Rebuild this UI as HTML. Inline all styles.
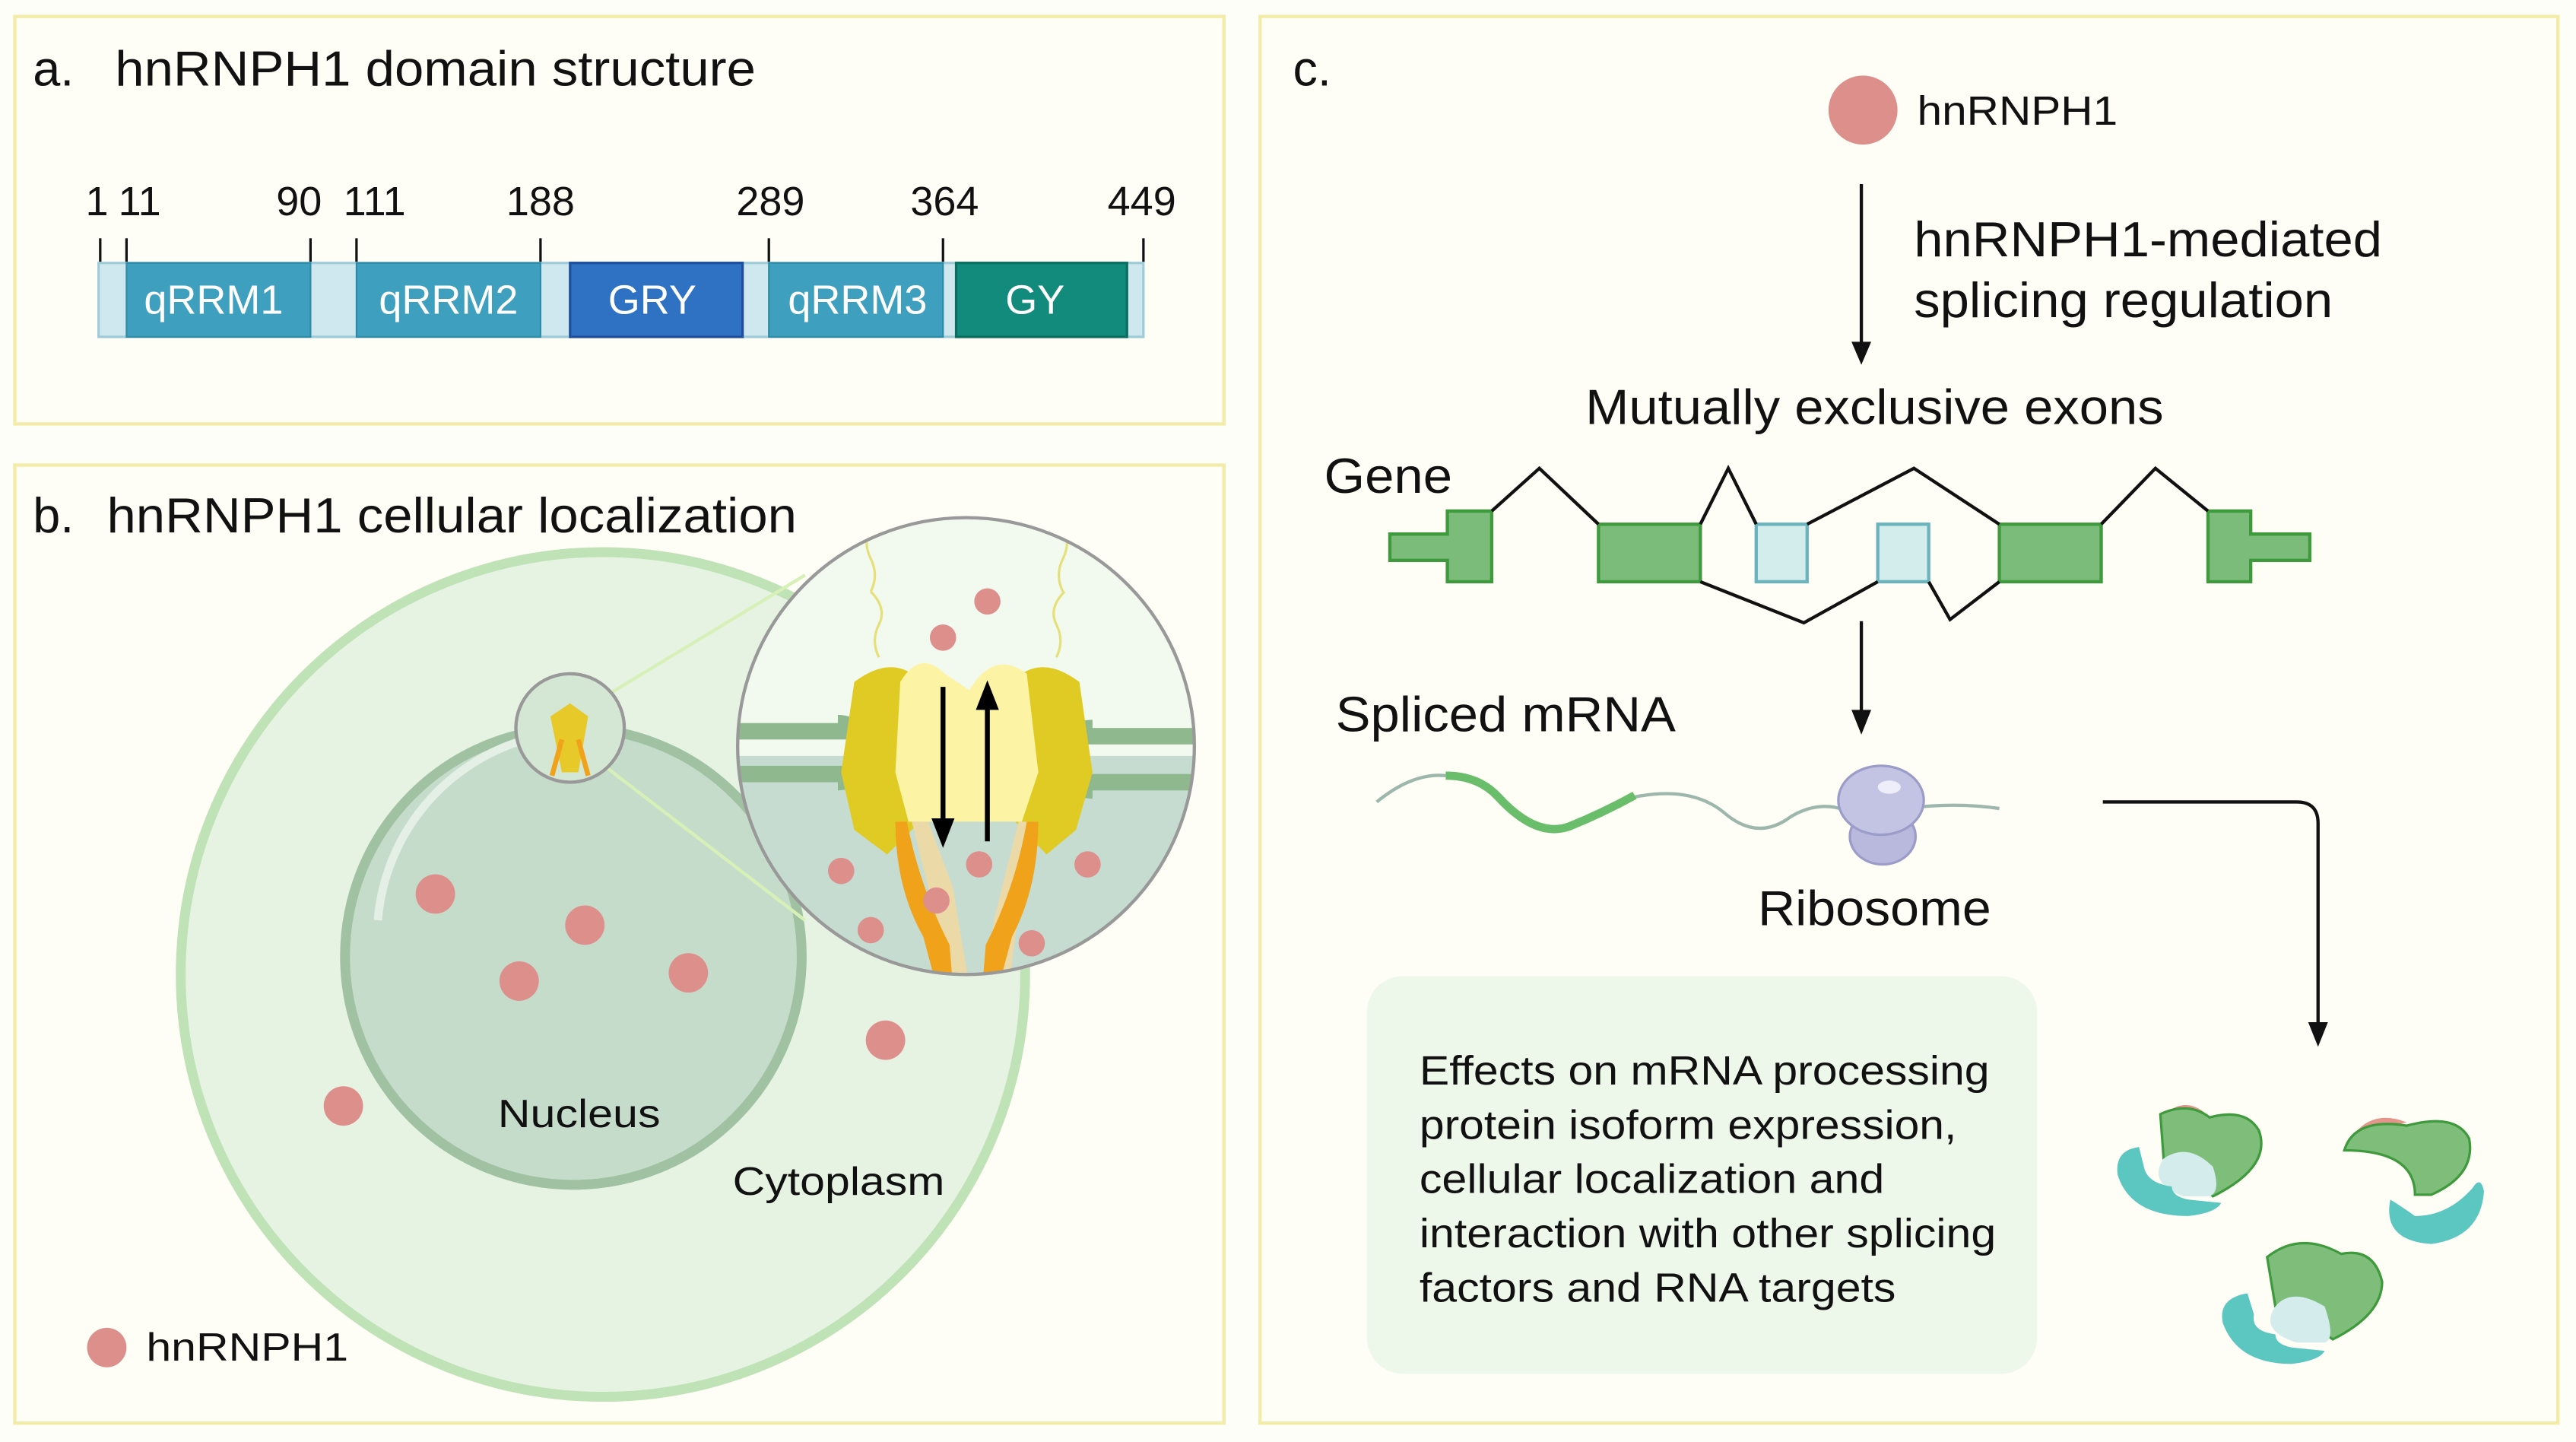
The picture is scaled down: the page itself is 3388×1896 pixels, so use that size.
<!DOCTYPE html>
<html><head><meta charset="utf-8"><style>
html,body{margin:0;padding:0;background:#fefef8;}
svg{display:block;}
text{font-family:"Liberation Sans",Arial,sans-serif;fill:#111;}
</style></head><body>
<svg width="3388" height="1896" viewBox="0 0 1568 877.5" xmlns="http://www.w3.org/2000/svg">
<rect x="0" y="0" width="1568" height="878" fill="#fefef8"/>
<!-- panels -->
<rect x="9" y="10" width="736" height="248" fill="#fefef6" stroke="#f2eca8" stroke-width="2"/>
<rect x="9" y="283" width="736" height="583" fill="#fefef6" stroke="#f2eca8" stroke-width="2"/>
<rect x="767" y="10" width="790" height="856" fill="#fefef6" stroke="#f2eca8" stroke-width="2"/>

<!-- Panel a -->
<text x="20" y="52" font-size="30">a.</text>
<text x="70" y="52" font-size="30" textLength="390" lengthAdjust="spacingAndGlyphs">hnRNPH1 domain structure</text>
<g font-size="25" text-anchor="middle">
<text x="59" y="131">1</text><text x="85" y="131">11</text><text x="182" y="131">90</text><text x="228" y="131">111</text>
<text x="329" y="131">188</text><text x="469" y="131">289</text><text x="575" y="131">364</text><text x="695" y="131">449</text>
</g>
<g stroke="#111" stroke-width="1.5">
<line x1="61" y1="145" x2="61" y2="160"/><line x1="77" y1="145" x2="77" y2="160"/><line x1="189" y1="145" x2="189" y2="160"/>
<line x1="217" y1="145" x2="217" y2="160"/><line x1="329" y1="145" x2="329" y2="160"/><line x1="468" y1="145" x2="468" y2="160"/>
<line x1="574" y1="145" x2="574" y2="160"/><line x1="696" y1="145" x2="696" y2="160"/>
</g>
<rect x="60" y="160" width="636" height="45" fill="#cfe8ef" stroke="#9fcbd8" stroke-width="1.5"/>
<rect x="77" y="160" width="112" height="45" fill="#3e9fbe" stroke="#2f8aa6"/>
<rect x="217" y="160" width="112" height="45" fill="#3e9fbe" stroke="#2f8aa6"/>
<rect x="347" y="160" width="105" height="45" fill="#2f72c3" stroke="#1f4f9a" stroke-width="1.5"/>
<rect x="468" y="160" width="106" height="45" fill="#3e9fbe" stroke="#2f8aa6"/>
<rect x="582" y="160" width="104" height="45" fill="#128b7c" stroke="#0c6e5e" stroke-width="1.5"/>
<g font-size="25" text-anchor="middle">
<text x="130" y="191" style="fill:#fff">qRRM1</text><text x="273" y="191" style="fill:#fff">qRRM2</text>
<text x="397" y="191" style="fill:#fff">GRY</text><text x="522" y="191" style="fill:#fff">qRRM3</text><text x="630" y="191" style="fill:#fff">GY</text>
</g>

<!-- Panel b -->
<text x="20" y="324" font-size="30">b.</text>
<text x="65" y="324" font-size="30" textLength="420" lengthAdjust="spacingAndGlyphs">hnRNPH1 cellular localization</text>
<circle cx="367" cy="593" r="257" fill="#e6f3e3" stroke="#bfe3b6" stroke-width="6"/>
<circle cx="349" cy="582" r="139" fill="#c6dccb" stroke="#a0c2a2" stroke-width="6"/>
<path d="M230 560 A125 125 0 0 1 320 450" stroke="#e4efe6" stroke-width="5" fill="none"/>
<g fill="#dd8f8b">
<circle cx="265" cy="544" r="12"/><circle cx="356" cy="563" r="12"/><circle cx="316" cy="597" r="12"/>
<circle cx="419" cy="592" r="12"/><circle cx="209" cy="673" r="12"/><circle cx="539" cy="633" r="12"/>
<circle cx="65" cy="820" r="12"/>
</g>
<text x="303" y="686" font-size="24" textLength="99" lengthAdjust="spacingAndGlyphs">Nucleus</text>
<text x="446" y="727" font-size="24" textLength="129" lengthAdjust="spacingAndGlyphs">Cytoplasm</text>
<text x="89" y="828" font-size="24" textLength="123" lengthAdjust="spacingAndGlyphs">hnRNPH1</text>
<!-- small circle and lines -->
<line x1="358" y1="430" x2="490" y2="350" stroke="#d6f0b8" stroke-width="2"/>
<line x1="360" y1="460" x2="490" y2="560" stroke="#d6f0b8" stroke-width="2"/>
<circle cx="347" cy="443" r="33" fill="#d4e6d4" stroke="#999" stroke-width="2"/>
<path d="M335 436 L347 428 L358 436 L352 470 L342 470 Z" fill="#e8c92a"/>
<path d="M342 450 L336 472 M352 450 L358 472" stroke="#f0a21a" stroke-width="3"/>
<!-- zoom circle -->
<defs><clipPath id="zc"><circle cx="588" cy="454" r="139"/></clipPath></defs>
<g clip-path="url(#zc)">
<rect x="440" y="300" width="300" height="310" fill="#f2f9ef"/>
<rect x="440" y="460" width="300" height="150" fill="#c6dcd0"/>
<rect x="440" y="440" width="95" height="10" fill="#8fb88f"/>
<rect x="440" y="466" width="95" height="10" fill="#8fb88f"/>
<path d="M510 440 A18 18 0 0 1 510 476" fill="none" stroke="#8fb88f" stroke-width="10"/>
<rect x="640" y="443" width="100" height="10" fill="#8fb88f"/>
<rect x="640" y="471" width="100" height="10" fill="#8fb88f"/>
<path d="M665 443 A19 19 0 0 0 665 481" fill="none" stroke="#8fb88f" stroke-width="10"/>
<path d="M520 415 Q540 400 555 410 L545 470 L560 500 L540 520 L520 505 L512 470 Z" fill="#e0cb24"/>
<path d="M657 415 Q637 400 622 410 L632 470 L618 500 L637 520 L655 505 L665 470 Z" fill="#e0cb24"/>
<path d="M548 415 Q560 395 575 410 L590 420 Q605 395 625 410 L632 470 L622 500 L553 500 L545 470 Z" fill="#fdf3a4"/>
<path d="M555 500 L570 560 L575 600 L590 600 L580 540 L565 500 Z" fill="#ecd9a8"/>
<path d="M620 500 L605 560 L600 600 L614 600 L622 540 L630 500 Z" fill="#ecd9a8"/>
<path d="M552 500 Q560 540 578 575 L580 600 L570 600 L562 570 Q545 540 545 500 Z" fill="#f0a21a"/>
<path d="M625 500 Q618 540 600 575 L598 600 L608 600 L616 570 Q632 540 632 500 Z" fill="#f0a21a"/>
<path d="M530 360 q5 -10 0 -20 q-5 -10 0 -20 M535 400 q-5 -10 0 -20 q5 -10 -5 -20" stroke="#e6e07a" stroke-width="1.5" fill="none"/>
<path d="M647 360 q-5 -10 0 -20 q5 -10 0 -20 M643 400 q5 -10 0 -20 q-5 -10 5 -20" stroke="#e6e07a" stroke-width="1.5" fill="none"/>
<g fill="#dd8f8b">
<circle cx="601" cy="366" r="8"/><circle cx="574" cy="388" r="8"/><circle cx="596" cy="526" r="8"/>
<circle cx="512" cy="530" r="8"/><circle cx="662" cy="526" r="8"/><circle cx="570" cy="548" r="8"/>
<circle cx="530" cy="566" r="8"/><circle cx="628" cy="574" r="8"/>
</g>
<line x1="574" y1="418" x2="574" y2="500" stroke="#000" stroke-width="3"/>
<path d="M567 498 L574 516 L581 498 Z" fill="#000"/>
<line x1="601" y1="430" x2="601" y2="512" stroke="#000" stroke-width="3"/>
<path d="M594 432 L601 414 L608 432 Z" fill="#000"/>
</g>
<circle cx="588" cy="454" r="139" fill="none" stroke="#999" stroke-width="2"/>

<!-- Panel c -->
<text x="787" y="52" font-size="30">c.</text>
<circle cx="1134" cy="67" r="21" fill="#dd8f8b"/>
<text x="1167" y="76" font-size="25" textLength="122" lengthAdjust="spacingAndGlyphs">hnRNPH1</text>
<line x1="1133" y1="112" x2="1133" y2="215" stroke="#111" stroke-width="2"/>
<path d="M1127 208 L1133 222 L1139 208 Z" fill="#111"/>
<text x="1165" y="156" font-size="30" textLength="285" lengthAdjust="spacingAndGlyphs">hnRNPH1-mediated</text>
<text x="1165" y="193" font-size="30" textLength="255" lengthAdjust="spacingAndGlyphs">splicing regulation</text>
<text x="965" y="258" font-size="30" textLength="352" lengthAdjust="spacingAndGlyphs">Mutually exclusive exons</text>
<text x="806" y="300" font-size="30" textLength="78" lengthAdjust="spacingAndGlyphs">Gene</text>
<g fill="#7cbc7a" stroke="#3e9a3c" stroke-width="2">
<path d="M846 325 H881 V311 H908 V354 H881 V341 H846 Z"/>
<rect x="973" y="319" width="62" height="35"/>
<rect x="1217" y="319" width="62" height="35"/>
<path d="M1344 311 H1370 V325 H1406 V341 H1370 V354 H1344 Z"/>
</g>
<rect x="1069" y="319" width="31" height="35" fill="#d3ecec" stroke="#6bb3bd" stroke-width="2"/>
<rect x="1143" y="319" width="31" height="35" fill="#d3ecec" stroke="#6bb3bd" stroke-width="2"/>
<g fill="none" stroke="#111" stroke-width="2">
<path d="M908 311 L937 285 L973 319"/>
<path d="M1035 319 L1052 285 L1069 319"/>
<path d="M1100 319 L1165 285 L1217 319"/>
<path d="M1279 319 L1312 285 L1344 311"/>
<path d="M1035 354 L1098 379 L1143 354"/>
<path d="M1174 354 L1187 377 L1217 354"/>
</g>
<line x1="1133" y1="378" x2="1133" y2="440" stroke="#111" stroke-width="2"/>
<path d="M1127 432 L1133 447 L1139 432 Z" fill="#111"/>
<text x="813" y="445" font-size="30" textLength="207" lengthAdjust="spacingAndGlyphs">Spliced mRNA</text>
<path d="M838 488 Q860 470 880 472 M995 485 Q1030 478 1050 495 Q1070 512 1090 497 Q1110 485 1130 496 M1160 492 Q1190 488 1217 492" fill="none" stroke="#9db7ad" stroke-width="2"/>
<path d="M880 472 Q900 472 912 485 Q935 510 955 503 Q975 495 995 484" fill="none" stroke="#6abd6a" stroke-width="5"/>
<ellipse cx="1146" cy="509" rx="20" ry="17" fill="#b8b9dc" stroke="#9b9cc8" stroke-width="1.5"/>
<ellipse cx="1145" cy="487" rx="26" ry="21" fill="#c3c4e4" stroke="#9b9cc8" stroke-width="1.5"/>
<ellipse cx="1150" cy="479" rx="7" ry="4" fill="#eeeefa"/>
<text x="1070" y="563" font-size="30" textLength="142" lengthAdjust="spacingAndGlyphs">Ribosome</text>
<path d="M1280 488 H1398 Q1411 488 1411 501 V630" fill="none" stroke="#111" stroke-width="2"/>
<path d="M1405 622 L1411 637 L1417 622 Z" fill="#111"/>
<rect x="832" y="594" width="408" height="242" rx="22" fill="#edf7ea"/>
<g font-size="25" lengthAdjust="spacingAndGlyphs">
<text x="864" y="660" textLength="347" lengthAdjust="spacingAndGlyphs">Effects on mRNA processing</text>
<text x="864" y="693" textLength="327" lengthAdjust="spacingAndGlyphs">protein isoform expression,</text>
<text x="864" y="726" textLength="283" lengthAdjust="spacingAndGlyphs">cellular localization and</text>
<text x="864" y="759" textLength="351" lengthAdjust="spacingAndGlyphs">interaction with other splicing</text>
<text x="864" y="792" textLength="290" lengthAdjust="spacingAndGlyphs">factors and RNA targets</text>
</g>
<!-- proteins -->
<g transform="translate(1287,670)">
<path d="M33 6 Q45 -2 56 8 Z" fill="#e3958a"/>
<path d="M28 8 Q45 0 58 10 Q80 4 88 18 Q96 40 60 58 L40 40 L30 35 Z" fill="#7fbd7a" stroke="#3e9a3c" stroke-width="1.5"/>
<path d="M30 35 Q45 25 60 40 Q65 55 58 58 L42 58 Q20 50 30 35 Z" fill="#d4ecec"/>
<path d="M15 28 Q0 30 2 45 Q10 70 45 70 Q62 68 65 62 L45 60 Q35 58 35 52 Q20 50 18 40 Z" fill="#5cc6c0"/>
</g>
<g transform="translate(1425,675)">
<path d="M8 15 Q20 0 40 8 Z" fill="#e3958a"/>
<path d="M2 25 Q8 5 40 10 Q70 2 78 18 Q82 40 55 52 L45 52 Q45 25 2 25 Z" fill="#7fbd7a" stroke="#3e9a3c" stroke-width="1.5"/>
<path d="M30 55 Q25 80 55 82 Q85 78 87 50 Q85 40 80 48 Q65 65 45 65 Q38 60 30 55 Z" fill="#5cc6c0"/>
</g>
<g transform="translate(1350,755)">
<path d="M30 10 Q50 -6 75 8 Q95 4 100 25 Q100 45 70 60 L55 50 L35 40 Z" fill="#7fbd7a" stroke="#3e9a3c" stroke-width="1.5"/>
<path d="M35 40 Q45 28 65 40 Q72 60 65 62 L48 62 Q25 55 35 40 Z" fill="#d4ecec"/>
<path d="M18 32 Q0 35 3 50 Q12 75 45 75 Q62 73 65 67 L45 65 Q35 63 35 57 Q20 55 22 45 Z" fill="#5cc6c0"/>
</g>
</svg>
</body></html>
